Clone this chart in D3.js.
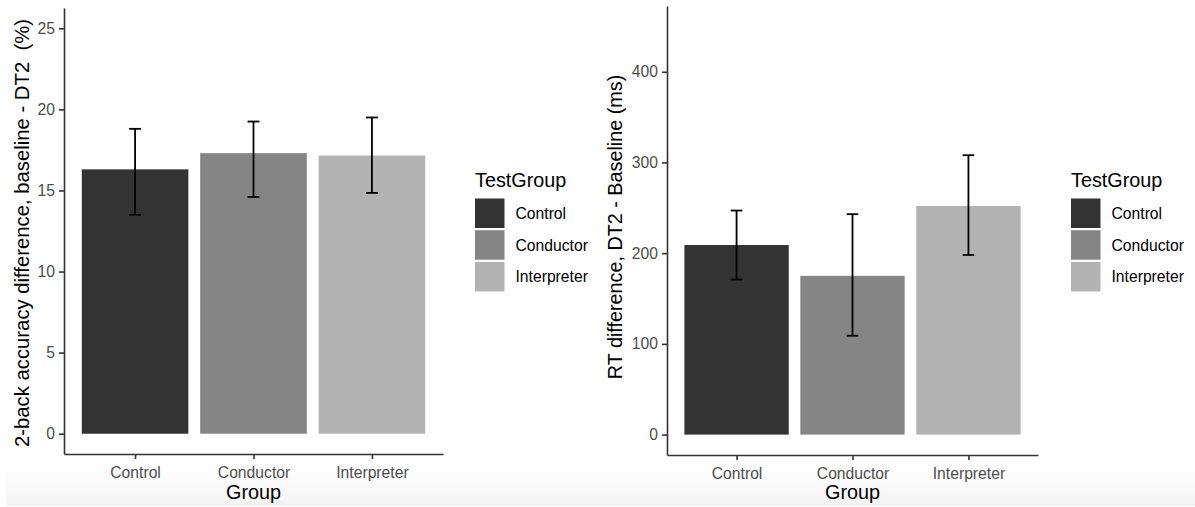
<!DOCTYPE html>
<html>
  <head>
    <meta charset="utf-8">
    <title>TestGroup differences</title>
    <script src="https://cdnjs.cloudflare.com/ajax/libs/d3/7.8.5/d3.min.js" charset="utf-8"></script>
    <style>
      body { margin: 0; background: #fff; }
      text { font-family: "Liberation Sans", Arial, sans-serif; }
    </style>
  </head>

  <body>
    <div id="chart"></div>
    <script>

// values
var groups = ["Control", "Conductor", "Interpreter"];
var fills = ["#333333", "#858585", "#b3b3b3"];

var accMean = [16.3, 17.3, 17.15];
var accLow = [13.5, 14.6, 14.85];
var accHigh = [18.8, 19.25, 19.5];
var accTicks = [0, 5, 10, 15, 20, 25];

var rtMean = [209, 175, 252];
var rtLow = [171, 109, 198];
var rtHigh = [247, 243, 308];
var rtTicks = [0, 100, 200, 300, 400];

window.addEventListener("load", run);

function run () {
    var svg = d3.select("#chart").append("svg")
        .attr("width", 1195)
        .attr("height", 507);

    // faint grey fade along the bottom of the screenshot
    var grad = svg.append("defs").append("linearGradient")
        .attr("id", "fade")
        .attr("x1", 0).attr("y1", 0).attr("x2", 0).attr("y2", 1);
    grad.append("stop").attr("offset", "0%").attr("stop-color", "#ffffff");
    grad.append("stop").attr("offset", "100%").attr("stop-color", "#f3f3f3");
    svg.append("rect")
        .attr("x", 6).attr("y", 468)
        .attr("width", 1189).attr("height", 38)
        .attr("fill", "url(#fade)");

    drawPanel(svg, {
        left: 64, right: 443, top: 8, bottom: 454,
        domain: [-1.25, 26.25],
        ticks: accTicks,
        mean: accMean, low: accLow, high: accHigh,
        ytitle: "2-back accuracy difference, baseline - DT2\u00a0\u00a0(%)",
        ytitleX: 22, ytitleY: 233, ytitleSize: "20.3px",
        legendX: 475
    });

    drawPanel(svg, {
        left: 667, right: 1038, top: 6, bottom: 455,
        domain: [-22.5, 472.5],
        ticks: rtTicks,
        mean: rtMean, low: rtLow, high: rtHigh,
        ytitle: "RT difference, DT2 - Baseline (ms)",
        ytitleX: 615, ytitleY: 227, ytitleSize: "19.8px",
        legendX: 1071
    });
}

function drawPanel (svg, c) {
    var g = svg.append("g");

    var x = d3.scalePoint()
        .domain(groups)
        .range([c.left, c.right])
        .padding(0.6);
    var step = x.step();

    var y = d3.scaleLinear()
        .domain(c.domain)
        .range([c.bottom, c.top]);

    var rows = groups.map(function(k, i) {
        return {group: k, mean: c.mean[i], low: c.low[i], high: c.high[i], fill: fills[i]};
    });

    // bars
    g.selectAll("rect.bar")
        .data(rows)
        .enter().append("rect")
        .attr("class", "bar")
        .attr("x", function(d) { return x(d.group) - step * 0.45; })
        .attr("width", step * 0.9)
        .attr("y", function(d) { return y(d.mean); })
        .attr("height", function(d) { return y(0) - y(d.mean); })
        .attr("fill", function(d) { return d.fill; });

    // error bars
    var eb = g.selectAll("g.err")
        .data(rows)
        .enter().append("g")
        .attr("class", "err")
        .style("stroke", "#000")
        .style("stroke-width", 1.8);
    eb.append("line")
        .attr("x1", function(d) { return x(d.group); })
        .attr("x2", function(d) { return x(d.group); })
        .attr("y1", function(d) { return y(d.low); })
        .attr("y2", function(d) { return y(d.high); });
    ["low", "high"].forEach(function(k) {
        eb.append("line")
            .attr("x1", function(d) { return x(d.group) - step * 0.05; })
            .attr("x2", function(d) { return x(d.group) + step * 0.05; })
            .attr("y1", function(d) { return y(d[k]); })
            .attr("y2", function(d) { return y(d[k]); });
    });

    // axes
    var ya = g.append("g")
        .attr("transform", "translate(" + c.left + ",0)")
        .call(d3.axisLeft(y).tickValues(c.ticks).tickSize(5).tickSizeOuter(0).tickPadding(4));
    var xa = g.append("g")
        .attr("transform", "translate(0," + c.bottom + ")")
        .call(d3.axisBottom(x).tickSize(5).tickSizeOuter(0).tickPadding(4));

    [ya, xa].forEach(function(a) {
        a.select(".domain").style("stroke", "#333").style("stroke-width", 1.6);
        a.selectAll(".tick line").style("stroke", "#333").style("stroke-width", 1.6);
        a.selectAll(".tick text")
            .style("fill", "#4d4d4d")
            .style("font-size", "15.7px")
            .style("font-family", "'Liberation Sans', Arial, sans-serif");
    });
    xa.selectAll(".tick text").attr("dy", "0.95em");

    // axis titles
    g.append("text")
        .attr("x", (c.left + c.right) / 2)
        .attr("y", 499)
        .style("text-anchor", "middle")
        .style("font-size", "19.8px")
        .text("Group");

    g.append("text")
        .attr("transform", "translate(" + c.ytitleX + "," + c.ytitleY + ") rotate(-90)")
        .attr("dy", "0.35em")
        .style("text-anchor", "middle")
        .style("font-size", c.ytitleSize)
        .text(c.ytitle);

    // legend
    var lg = g.append("g").attr("transform", "translate(" + c.legendX + ",0)");
    lg.append("text")
        .attr("x", 0)
        .attr("y", 187)
        .style("font-size", "19.8px")
        .text("TestGroup");
    var key = lg.selectAll("g.key")
        .data(rows)
        .enter().append("g")
        .attr("class", "key")
        .attr("transform", function(d, i) { return "translate(0," + (198.5 + i * 31.7) + ")"; });
    key.append("rect")
        .attr("width", 29.5)
        .attr("height", 29.5)
        .attr("fill", function(d) { return d.fill; });
    key.append("text")
        .attr("x", 40.5)
        .attr("y", 15)
        .attr("dy", "0.35em")
        .style("font-size", "15.7px")
        .text(function(d) { return d.group; });
}

    </script>
  </body>
</html>
